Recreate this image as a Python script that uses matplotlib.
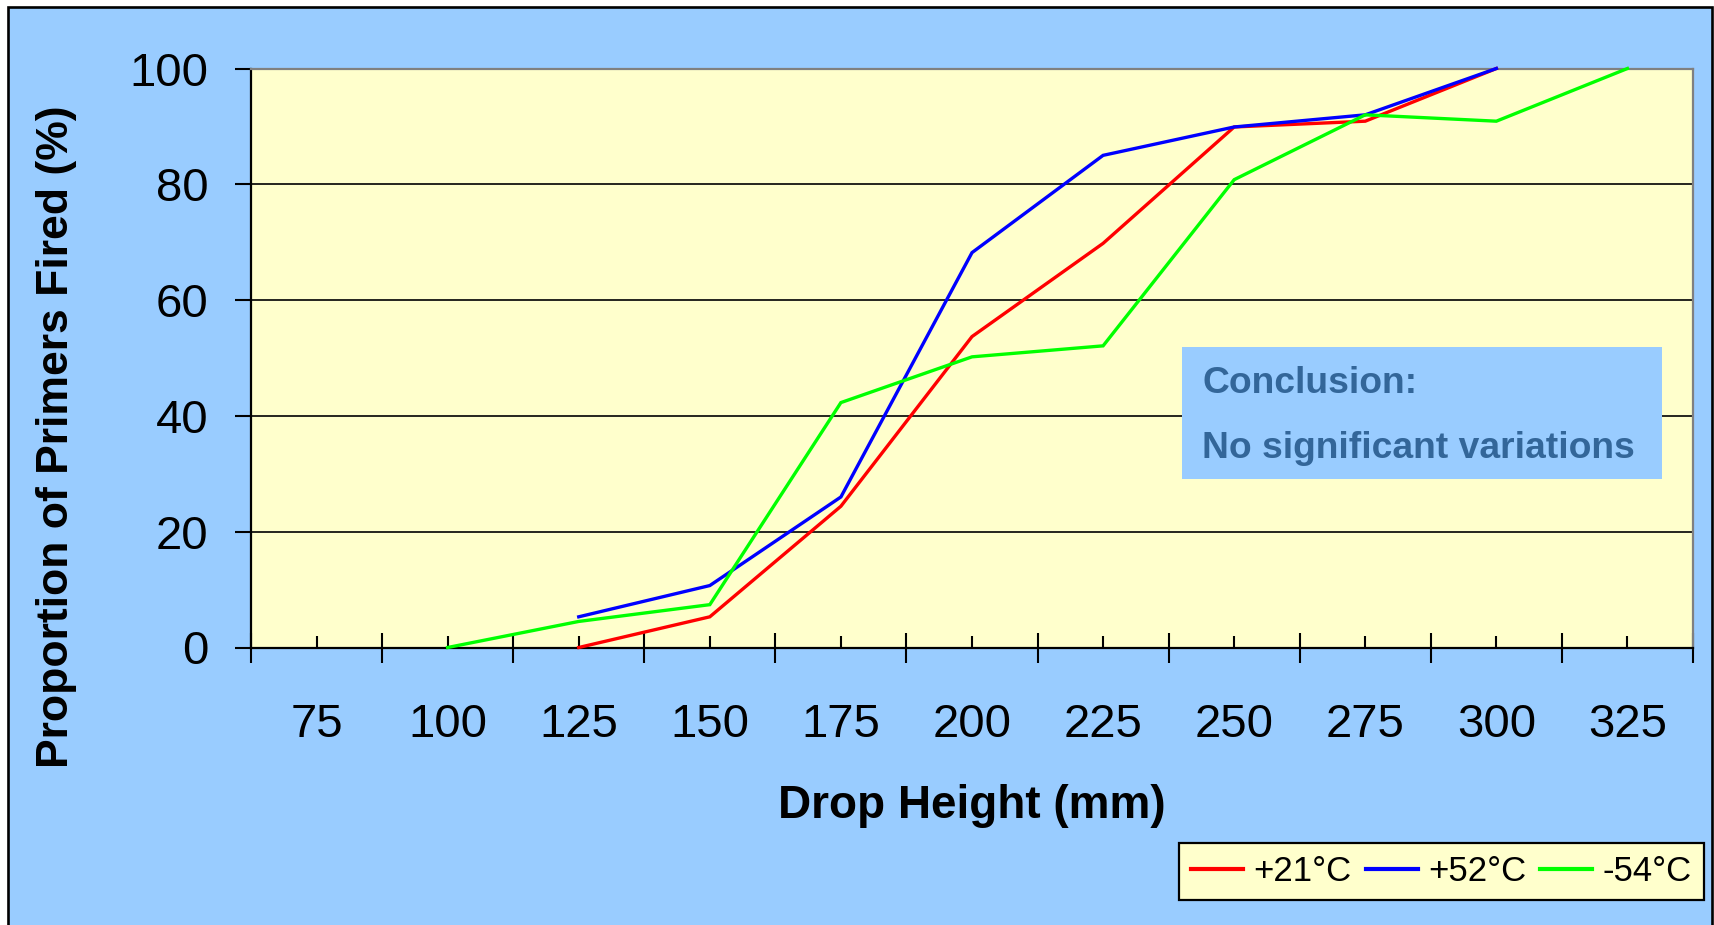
"""Drop-height sensitivity of primers at three conditioning temperatures."""

import matplotlib
matplotlib.use("Agg")
import matplotlib.pyplot as plt
from matplotlib.patches import Rectangle
from matplotlib.ticker import FixedLocator, NullFormatter
import numpy as np

plt.rcParams["font.family"] = ["Liberation Sans", "DejaVu Sans"]

# category axis (drop height, mm)
heights = [75, 100, 125, 150, 175, 200, 225, 250, 275, 300, 325]

# proportion fired (%), None where no test at that height
fired_p21 = [None, None, 0.0, 5.3, 24.4, 53.7, 69.8, 89.9, 90.9, 100.0, None]
fired_p52 = [None, None, 5.3, 10.7, 26.0, 68.2, 85.0, 89.9, 92.0, 100.0, None]
fired_m54 = [None, 0.0, 4.5, 7.4, 42.3, 50.2, 52.1, 80.8, 92.0, 90.9, 100.0]

series_labels = ["+21°C", "+52°C", "-54°C"]
series_colors = ["#FF0000", "#0000FF", "#00FF00"]

y_ticks = [0, 20, 40, 60, 80, 100]

W, H, DPI = 1715, 925, 100
BG = "#99CCFF"
PLOT_BG = "#FFFFCC"


def to_array(vals):
    return np.array([np.nan if v is None else v for v in vals], dtype=float)


fig = plt.figure(figsize=(W / DPI, H / DPI), dpi=DPI, facecolor="white")

# chart-area frame (light blue with black border), kept behind the axes
fig.patches.append(Rectangle(
    (8 / W, -0.05), (1712 - 8) / W, 1.05 - 7 / H,
    transform=fig.transFigure, facecolor=BG, edgecolor="black",
    linewidth=1.9, zorder=-5,
))

ax = fig.add_axes([251 / W, 1 - 647.5 / H, (1693 - 251) / W, (647.5 - 68.5) / H])
ax.set_facecolor(PLOT_BG)

x = np.arange(len(heights))
for vals, lab, col in zip([fired_p21, fired_p52, fired_m54], series_labels, series_colors):
    ax.plot(x, to_array(vals), color=col, lw=2.4, label=lab,
            solid_joinstyle="miter", zorder=3, clip_on=False)

ax.set_xlim(-0.5, len(heights) - 0.5)
ax.set_ylim(0, 100)

# y axis
ax.set_yticks(y_ticks)
ax.set_yticklabels([str(t) for t in y_ticks])
ax.tick_params(axis="y", which="major", direction="out", length=11.5,
               width=1.5, labelsize=34, pad=19)
for t in y_ticks[1:-1]:
    ax.axhline(t, color="black", lw=1.2, zorder=1)

# x axis: boundaries as major ticks, category labels on the minor ticks
ax.xaxis.set_major_locator(FixedLocator(np.arange(-0.5, len(heights), 1.0)))
ax.xaxis.set_major_formatter(NullFormatter())
ax.xaxis.set_minor_locator(FixedLocator(x))
ax.set_xticklabels([str(h) for h in heights], minor=True)
ax.tick_params(axis="x", which="major", direction="inout", length=22, width=1.5)
ax.tick_params(axis="x", which="minor", direction="in", length=8.6, width=1.5,
               labelsize=34, pad=40)

for side in ("left", "bottom"):
    ax.spines[side].set_color("black")
    ax.spines[side].set_linewidth(1.6)
for side in ("top", "right"):
    ax.spines[side].set_color("#808080")
    ax.spines[side].set_linewidth(1.6)

# axis titles
fig.text(57 / W, 1 - 437 / H, "Proportion of Primers Fired (%)", rotation=90,
         ha="center", va="center", fontsize=32, fontweight="bold")
fig.text(972 / W, 1 - 806 / H, "Drop Height (mm)", ha="center", va="center",
         fontsize=33, fontweight="bold")

# conclusion box
fig.patches.append(Rectangle(
    (1182 / W, 1 - 479 / H), (1662 - 1182) / W, (479 - 347) / H,
    transform=fig.transFigure, facecolor=BG, edgecolor="none", zorder=5,
))
fig.text(1202 / W, 1 - 393 / H, "Conclusion:", ha="left", va="baseline",
         fontsize=26.8, fontweight="bold", color="#336699", zorder=6)
fig.text(1202 / W, 1 - 458 / H, "No significant variations", ha="left",
         va="baseline", fontsize=26.8, fontweight="bold", color="#336699", zorder=6)

leg = ax.legend(loc="upper left", bbox_to_anchor=(1179 / W, 1 - 843 / H),
                bbox_transform=fig.transFigure, ncol=3, fontsize=25,
                frameon=True, fancybox=False, framealpha=1, borderaxespad=0,
                borderpad=0.35, handlelength=1.5, handletextpad=0.3,
                columnspacing=0.4)
leg.get_frame().set_facecolor(PLOT_BG)
leg.get_frame().set_edgecolor("black")
leg.get_frame().set_linewidth(1.6)
for line in leg.get_lines():
    line.set_linewidth(3)

fig.savefig("out.png", dpi=DPI, facecolor=fig.get_facecolor())
